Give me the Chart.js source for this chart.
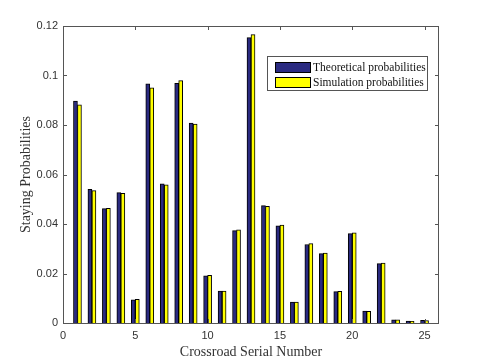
<!DOCTYPE html>
<html>
<head>
<meta charset="utf-8">
<script src="https://cdn.jsdelivr.net/npm/chart.js@4/dist/chart.umd.min.js"></script>
<style>
html,body{margin:0;padding:0;background:#fff;}
#wrap{width:485px;height:363px;position:relative;}
</style>
</head>
<body>
<div id="wrap"><canvas id="c" width="485" height="363"></canvas></div>
<script>
const crossroads = [1,2,3,4,5,6,7,8,9,10,11,12,13,14,15,16,17,18,19,20,21,22,23,24,25];
const theoretical = [0.0897,0.0540,0.0462,0.0527,0.0094,0.0966,0.0562,0.0968,0.0808,0.0191,0.0129,0.0373,0.1153,0.0474,0.0393,0.0085,0.0317,0.0280,0.0127,0.0361,0.0048,0.0240,0.0013,0.0008,0.0011];
const simulation = [0.0881,0.0535,0.0463,0.0524,0.0096,0.0950,0.0558,0.0979,0.0804,0.0193,0.0129,0.0376,0.1165,0.0471,0.0396,0.0085,0.0321,0.0283,0.0128,0.0364,0.0047,0.0242,0.0013,0.0007,0.0010];
const xTickValues = [0,5,10,15,20,25];
const yTickValues = [0,0.02,0.04,0.06,0.08,0.1,0.12];
const seriesNames = ['Theoretical probabilities','Simulation probabilities'];
const xTitle = 'Crossroad Serial Number';
const yTitle = 'Staying Probabilities';

const toPts = (vals) => vals.map((v,i)=>({x: crossroads[i], y: v}));

const framePlugin = {
  id: 'frame',
  afterDraw(chart) {
    const {ctx, chartArea: a, scales} = chart;
    ctx.save();
    ctx.strokeStyle = '#555';
    ctx.lineWidth = 1;
    ctx.strokeRect(a.left + 0.5, a.top + 0.5, a.right - a.left - 1, a.bottom - a.top);
    const tl = 4;
    ctx.beginPath();
    scales.x.ticks.forEach(t => {
      const px = Math.round(scales.x.getPixelForValue(t.value)) + 0.5;
      ctx.moveTo(px, a.bottom); ctx.lineTo(px, a.bottom - tl);
      ctx.moveTo(px, a.top); ctx.lineTo(px, a.top + tl);
    });
    scales.y.ticks.forEach(t => {
      const py = Math.round(scales.y.getPixelForValue(t.value)) + 0.5;
      ctx.moveTo(a.left, py); ctx.lineTo(a.left + tl, py);
      ctx.moveTo(a.right, py); ctx.lineTo(a.right - tl, py);
    });
    ctx.stroke();

    // legend box
    const lx = 267, ly = 56, lw = 160, lh = 34;
    ctx.fillStyle = '#fff';
    ctx.fillRect(lx, ly, lw, lh);
    ctx.strokeStyle = '#555';
    ctx.strokeRect(lx + 0.5, ly + 0.5, lw, lh);
    ctx.font = '11.5px "Liberation Serif", "Times New Roman", serif';
    ctx.textBaseline = 'middle';
    chart.data.datasets.forEach((ds, i) => {
      const sy = ly + 6 + i * 15;
      ctx.fillStyle = ds.backgroundColor;
      ctx.fillRect(lx + 8, sy, 35, 10);
      ctx.strokeStyle = '#000';
      ctx.strokeRect(lx + 8.5, sy + 0.5, 35, 10);
      ctx.fillStyle = '#111';
      ctx.fillText(ds.label, lx + 46, sy + 5.5);
    });
    ctx.restore();
  }
};

new Chart(document.getElementById('c'), {
  type: 'bar',
  data: {
    datasets: [
      {label: seriesNames[0], data: toPts(theoretical), backgroundColor: '#2a2a80', borderColor: '#000', borderWidth: 1, barThickness: 4},
      {label: seriesNames[1], data: toPts(simulation), backgroundColor: '#ffff00', borderColor: '#000', borderWidth: 1, barThickness: 4}
    ]
  },
  options: {
    responsive: false,
    animation: false,
    devicePixelRatio: 1,
    layout: {padding: {top: 26, right: 46, left: 0, bottom: 0}},
    plugins: {legend: {display: false}, tooltip: {enabled: false}},
    scales: {
      x: {
        type: 'linear', min: 0, max: 26, offset: false,
        grid: {display: false, drawTicks: false},
        border: {display: false},
        afterBuildTicks: s => { s.ticks = xTickValues.map(v => ({value: v})); },
        ticks: {autoSkip: false, maxRotation: 0, color: '#333', font: {family: '"Liberation Sans", Arial, sans-serif', size: 11}, padding: 6,
          callback: v => String(v)},
        title: {display: true, text: xTitle, color: '#333', font: {family: '"Liberation Serif", "Times New Roman", serif', size: 14}, padding: {top: 0, bottom: 2}},
        afterFit: s => { s.height = 40; }
      },
      y: {
        min: 0, max: 0.12,
        grid: {display: false, drawTicks: false},
        border: {display: false},
        afterBuildTicks: s => { s.ticks = yTickValues.map(v => ({value: v})); },
        ticks: {autoSkip: false, color: '#333', font: {family: '"Liberation Sans", Arial, sans-serif', size: 11}, padding: 5,
          callback: v => String(Math.round(v * 100) / 100)},
        title: {display: true, text: yTitle, color: '#333', font: {family: '"Liberation Serif", "Times New Roman", serif', size: 14}, padding: {top: 18, bottom: 0}},
        afterFit: s => { s.width = 63; }
      }
    }
  },
  plugins: [framePlugin]
});
</script>
</body>
</html>
